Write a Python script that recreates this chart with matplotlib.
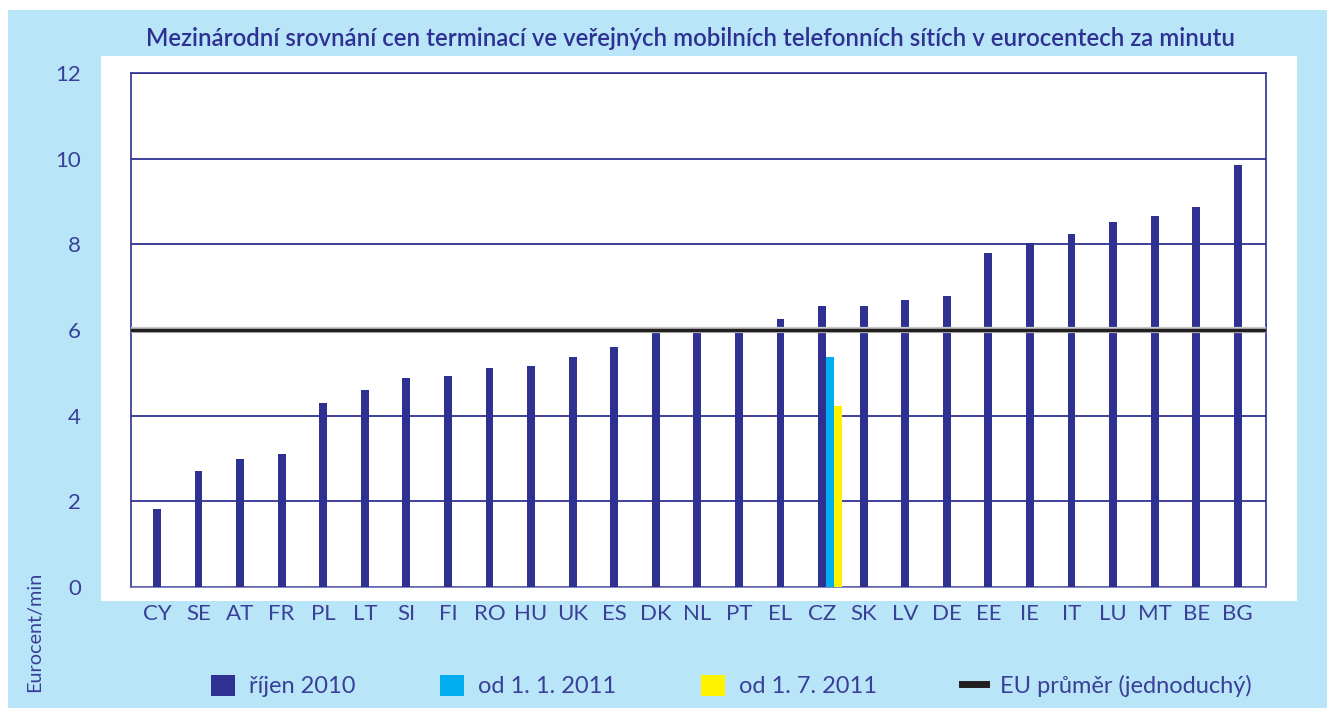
import numpy as np
import matplotlib.pyplot as plt
from matplotlib.patches import Rectangle, Patch
from matplotlib.lines import Line2D

countries = ['CY', 'SE', 'AT', 'FR', 'PL', 'LT', 'SI', 'FI', 'RO', 'HU', 'UK', 'ES', 'DK', 'NL',
             'PT', 'EL', 'CZ', 'SK', 'LV', 'DE', 'EE', 'IE', 'IT', 'LU', 'MT', 'BE', 'BG']
oct_2010 = [1.83, 2.71, 2.99, 3.11, 4.30, 4.60, 4.88, 4.93, 5.11, 5.16, 5.37, 5.60, 5.99, 6.00,
            6.03, 6.26, 6.56, 6.56, 6.70, 6.79, 7.79, 8.02, 8.23, 8.51, 8.67, 8.86, 9.85]
cz_jan_2011 = 5.37
cz_jul_2011 = 4.23
eu_avg = 6.0

title = 'Mezinárodní srovnání cen terminací ve veřejných mobilních telefonních sítích v eurocentech za minutu'
legend_labels = ['říjen 2010', 'od 1. 1. 2011', 'od 1. 7. 2011', 'EU průměr (jednoduchý)']

NAVY = '#2E3192'
CYAN = '#00AEEF'
YELLOW = '#FFF200'
BG = '#B9E5F8'
TXT = '#3A3F98'

plt.rcParams['font.family'] = ['Lato', 'DejaVu Sans']

W, H = 1327, 713
fig = plt.figure(figsize=(W / 100, H / 100), dpi=100, facecolor='white')

# background panels
fig.patches.append(Rectangle((8 / W, 1 - 708 / H), 1, 698 / H, transform=fig.transFigure,
                             facecolor=BG, edgecolor='none', zorder=-10))
fig.patches.append(Rectangle((101 / W, 1 - 601 / H), (1297 - 101) / W, (601 - 56) / H,
                             transform=fig.transFigure, facecolor='white', edgecolor='none', zorder=-9))

ax = fig.add_axes([131 / W, 1 - 587 / H, (1266 - 131) / W, (587 - 73) / H])
ax.set_facecolor('white')

x = np.arange(len(countries))
bw = 0.19
ax.bar(x, oct_2010, width=bw, color=NAVY, zorder=3)
cz = countries.index('CZ')
ax.bar(cz + bw, cz_jan_2011, width=bw, color=CYAN, zorder=3)
ax.bar(cz + 2 * bw, cz_jul_2011, width=bw, color=YELLOW, zorder=3)
ax.axhline(eu_avg, color='#C8C8C8', lw=4.5, zorder=4)
ax.axhline(eu_avg, color='#231F20', lw=2.5, zorder=5)

ax.set_xlim(-0.625, len(countries) - 1 + 0.68)
ax.set_ylim(0, 12)
ax.set_yticks(np.arange(0, 13, 2))
ax.set_xticks(x)
ax.set_xticklabels(countries)
ax.yaxis.grid(True, color=NAVY, lw=1.3, zorder=1)
ax.tick_params(axis='both', length=0, labelsize=16, labelcolor=TXT)
ax.tick_params(axis='y', pad=36)
ax.tick_params(axis='x', pad=12)
for s in ax.spines.values():
    s.set_color(NAVY)
    s.set_linewidth(1.2)
ax.spines['bottom'].set_color('#6A6FB3')

fig.text(0.52, 1 - 38 / H, title, ha='center', va='center', fontsize=17.3,
         fontweight='semibold', color=NAVY)
fig.text(35 / W, 1 - 632 / H, 'Eurocent/min', rotation=90, ha='center', va='center',
         fontsize=14.3, color=TXT)

handles = [Patch(facecolor=NAVY), Patch(facecolor=CYAN), Patch(facecolor=YELLOW),
           Line2D([0], [0], color='#231F20', lw=5)]
fig.legend(handles, legend_labels, loc='center', bbox_to_anchor=(0.551, 1 - 686 / H), ncol=4,
           frameon=False, fontsize=17, labelcolor=TXT, handlelength=1.0, handleheight=1.0,
           handletextpad=0.6, columnspacing=3.6)

fig.savefig('out.png', dpi=100, facecolor='white')
